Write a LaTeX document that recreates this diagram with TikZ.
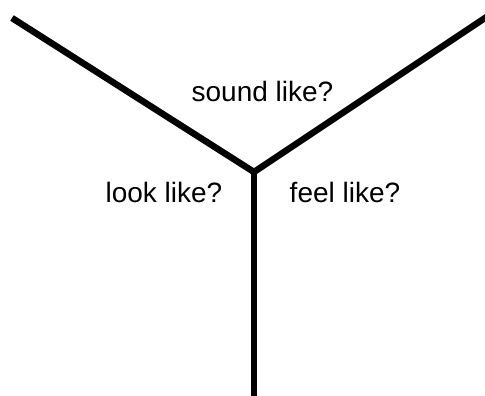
\documentclass[tikz,border=0pt]{standalone}
\usepackage{fontspec}
\setmainfont{Liberation Sans}
\begin{document}
\begin{tikzpicture}[x=1pt,y=-1pt,
  arm/.style={line width=6.5pt,line cap=butt,line join=miter},
  lbl/.style={anchor=base,inner sep=0pt,font=\fontsize{28pt}{33pt}\selectfont}]
\useasboundingbox (0,0) rectangle (485,396);
\coordinate (c) at (254,172);
\coordinate (tl) at (12,18);
\coordinate (tr) at (488,16);
\coordinate (b) at (254,397);
\draw[arm] (tl) -- (c) -- (tr);
\draw[arm] (c) -- (b);
\node[lbl] (s) at (262.5,102) {sound like?};
\node[lbl] (l) at (164,202) {look like?};
\node[lbl] (f) at (345,202) {feel like?};
\end{tikzpicture}
\end{document}
